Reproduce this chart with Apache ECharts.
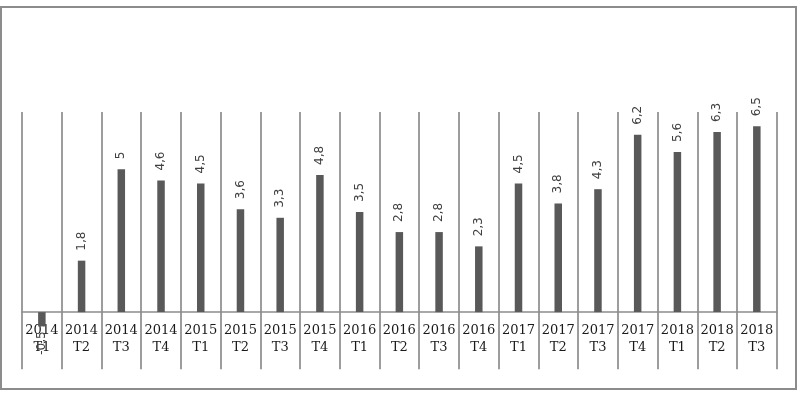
<!DOCTYPE html>
<html>
<head>
<meta charset="utf-8">
<script src="https://cdn.jsdelivr.net/npm/echarts@6/dist/echarts.min.js"></script>
<style>
html,body{margin:0;padding:0;background:#fff;}
#chart{width:797px;height:395px;}
</style>
</head>
<body>
<div id="chart"></div>
<script>
const categories = ["2014\nT1","2014\nT2","2014\nT3","2014\nT4","2015\nT1","2015\nT2","2015\nT3","2015\nT4","2016\nT1","2016\nT2","2016\nT3","2016\nT4","2017\nT1","2017\nT2","2017\nT3","2017\nT4","2018\nT1","2018\nT2","2018\nT3"];
const values = [-0.5, 1.8, 5, 4.6, 4.5, 3.6, 3.3, 4.8, 3.5, 2.8, 2.8, 2.3, 4.5, 3.8, 4.3, 6.2, 5.6, 6.3, 6.5];

const chart = echarts.init(document.getElementById('chart'), null, {renderer: 'canvas'});
const barData = values.map(v => v < 0 ? {
  value: v,
  label: {position: 'bottom', align: 'right', distance: 5}
} : v);

const yMin = -2, yMax = 7;
const gridTop = 112, gridBottom = 25.7;
const gridH = 395 - gridTop - gridBottom;
const zeroOffset = gridH * (0 - yMin) / (yMax - yMin);

chart.setOption({
  animation: false,
  backgroundColor: '#ffffff',
  graphic: [{
    type: 'rect',
    shape: {x: 1, y: 7, width: 795, height: 382},
    style: {fill: 'none', stroke: '#8c8c8c', lineWidth: 2},
    z: 0
  }],
  grid: {left: 22, right: 20.3, top: gridTop, bottom: gridBottom, outerBoundsMode: 'none', containLabel: false},
  xAxis: {
    type: 'category',
    data: categories,
    position: 'bottom',
    offset: -zeroOffset,
    axisLine: {onZero: false, lineStyle: {color: '#8c8c8c', width: 1.7}},
    axisTick: {show: false},
    splitLine: {show: true, lineStyle: {color: '#8c8c8c', width: 1.7}},
    axisLabel: {
      interval: 0,
      fontFamily: 'DejaVu Serif',
      fontSize: 13,
      color: '#1a1a1a',
      lineHeight: 17,
      margin: 10
    }
  },
  yAxis: {
    type: 'value',
    min: yMin,
    max: yMax,
    show: false,
    splitLine: {show: false}
  },
  series: [{
    type: 'bar',
    data: barData,
    barWidth: 7.5,
    itemStyle: {color: '#595959'},
    label: {
      show: true,
      position: 'top',
      rotate: 90,
      align: 'left',
      verticalAlign: 'middle',
      distance: 10,
      fontFamily: 'DejaVu Sans',
      fontSize: 12,
      color: '#404040',
      formatter: p => String(p.value).replace('.', ',')
    }
  }]
});
</script>
</body>
</html>
